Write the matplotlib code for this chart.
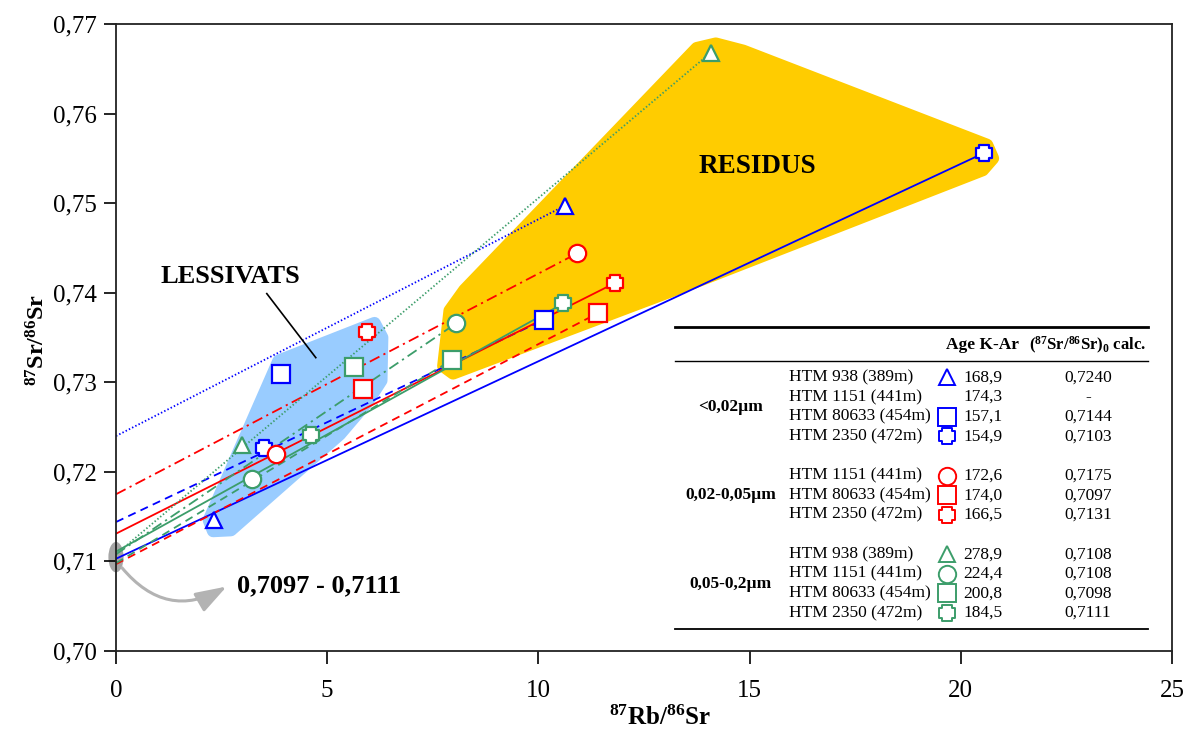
import numpy as np
import matplotlib
matplotlib.use("Agg")
import matplotlib.pyplot as plt
from matplotlib.patches import Polygon, Ellipse, FancyArrowPatch
from matplotlib.path import Path
from matplotlib.ticker import FuncFormatter, MultipleLocator

plt.rcParams['font.family'] = ['Liberation Serif', 'DejaVu Serif']
plt.rcParams['mathtext.fontset'] = 'custom'
plt.rcParams['mathtext.rm'] = 'Liberation Serif'
plt.rcParams['mathtext.bf'] = 'Liberation Serif:bold'
plt.rcParams['mathtext.it'] = 'Liberation Serif:italic'

# --- data -----------------------------------------------------------------
fractions = ['<0,02µm', '0,02-0,05µm', '0,05-0,2µm']
sample_names = ['HTM 938 (389m)', 'HTM 1151 (441m)', 'HTM 80633 (454m)', 'HTM 2350 (472m)',
                'HTM 1151 (441m)', 'HTM 80633 (454m)', 'HTM 2350 (472m)',
                'HTM 938 (389m)', 'HTM 1151 (441m)', 'HTM 80633 (454m)', 'HTM 2350 (472m)']
sample_frac = [0, 0, 0, 0, 1, 1, 1, 2, 2, 2, 2]
sample_shape = ['tri', None, 'sq', 'cross', 'circ', 'sq', 'cross', 'tri', 'circ', 'sq', 'cross']
age_kar = ['168,9', '174,3', '157,1', '154,9', '172,6', '174,0', '166,5',
           '278,9', '224,4', '200,8', '184,5']
sr0_calc = [0.7240, None, 0.7144, 0.7103, 0.7175, 0.7097, 0.7131,
            0.7108, 0.7108, 0.7098, 0.7111]

# lessivats (leachates)
leach_x = [2.33, None, 3.91, 3.51, 3.79, 5.85, 5.95, 2.98, 3.23, 5.64, 4.62]
leach_y = [0.7146, None, 0.7309, 0.7227, 0.7220, 0.7293, 0.7356, 0.7230, 0.7192, 0.7317, 0.7241]
# residus
resid_x = [10.62, None, 10.14, 20.55, 10.92, 11.40, 11.82, 14.08, 8.06, 7.96, 10.59]
resid_y = [0.7497, None, 0.7370, 0.7556, 0.7444, 0.7377, 0.7411, 0.7668, 0.7366, 0.7325, 0.7388]

# outlines of the shaded fields
lessivats_x = [6.12, 6.30, 6.28, 5.95, 5.30, 2.72, 2.30, 2.20, 3.06, 3.85]
lessivats_y = [0.7366, 0.7350, 0.7302, 0.7278, 0.7242, 0.7135, 0.7134, 0.7146, 0.7239, 0.7324]
residus_x = [14.20, 14.85, 20.62, 20.76, 20.52, 13.83, 7.98, 7.75, 7.90, 8.25, 13.75]
residus_y = [0.7678, 0.7670, 0.7565, 0.7550, 0.7537, 0.7414, 0.7310, 0.7318, 0.7380, 0.7403, 0.7673]

frac_colors = ['#0000FF', '#FF0000', '#3C9D6A']
cross = Path([(-0.27, -0.5), (0.27, -0.5), (0.27, -0.27), (0.5, -0.27), (0.5, 0.27),
              (0.27, 0.27), (0.27, 0.5), (-0.27, 0.5), (-0.27, 0.27), (-0.5, 0.27),
              (-0.5, -0.27), (-0.27, -0.27), (-0.27, -0.5)], closed=True)
markers = {'tri': '^', 'sq': 's', 'circ': 'o', 'cross': cross}
msizes = {'tri': 12, 'sq': 12.5, 'circ': 12.5, 'cross': 12}
lstyles = {'tri': (0, (0.8, 1.2)), 'sq': (0, (4.5, 3)), 'cross': '-',
           'circ': (0, (6, 2.5, 1.2, 2.5))}

# --- figure ---------------------------------------------------------------
fig = plt.figure(figsize=(11.88, 7.31), dpi=100)
ax = fig.add_axes([116 / 1188, 1 - 651 / 731, (1172 - 116) / 1188, (651 - 24) / 731])
ax.set_xlim(0, 25)
ax.set_ylim(0.70, 0.77)

ax.add_patch(Polygon(np.column_stack([lessivats_x, lessivats_y]), closed=True,
                     fc='#99CCFF', ec='#99CCFF', lw=9, joinstyle='round', zorder=1))
ax.add_patch(Polygon(np.column_stack([residus_x, residus_y]), closed=True,
                     fc='#FFCC00', ec='#FFCC00', lw=9, joinstyle='round', zorder=1))

ax.add_patch(Ellipse((0, 0.71048), 0.36, 0.0034, fc='#a6a6a6', ec='none',
                     clip_on=False, zorder=1.5))
ax.add_patch(FancyArrowPatch((0.14, 0.7093), (2.62, 0.7072),
                             connectionstyle='arc3,rad=0.42',
                             arrowstyle='-|>,head_length=0.95,head_width=0.32',
                             mutation_scale=20, color='#b3b3b3', lw=2.2,
                             shrinkA=0, shrinkB=0, clip_on=False, zorder=1.5))

for i in range(len(sample_names)):
    shp = sample_shape[i]
    if shp is None:
        continue
    c = frac_colors[sample_frac[i]]
    ax.plot([0, resid_x[i]], [sr0_calc[i], resid_y[i]], color=c, lw=1.3,
            linestyle=lstyles[shp], zorder=2)
    ax.plot([leach_x[i], resid_x[i]], [leach_y[i], resid_y[i]], linestyle='none',
            marker=markers[shp], ms=msizes[shp], mfc='white', mec=c, mew=1.6, zorder=3)

ax.text(15.18, 0.7541, 'RESIDUS', fontsize=19.5, fontweight='bold', ha='center', va='center')
ax.text(2.70, 0.7418, 'LESSIVATS', fontsize=19, fontweight='bold', ha='center', va='center')
ax.plot([3.57, 4.73], [0.7399, 0.73275], color='black', lw=1.2, zorder=2)
ax.text(2.86, 0.70732, '0,7097 - 0,7111', fontsize=19, fontweight='bold', ha='left',
        va='center')

ax.xaxis.set_major_locator(MultipleLocator(5))
ax.yaxis.set_major_locator(MultipleLocator(0.01))
ax.yaxis.set_major_formatter(FuncFormatter(lambda v, p: f'{v:.2f}'.replace('.', ',')))
ax.xaxis.set_major_formatter(FuncFormatter(lambda v, p: f'{v:.0f}'))
ax.tick_params(direction='out', length=9, width=1.2, labelsize=18, pad=5)
ax.tick_params(axis='x', pad=12)
for s in ax.spines.values():
    s.set_linewidth(1.3)
    s.set_color('#222222')

ax.set_xlabel(r'$^{\mathbf{87}}$Rb/$^{\mathbf{86}}$Sr', fontsize=18, fontweight='bold')
ax.set_ylabel(r'$^{\mathbf{87}}$Sr/$^{\mathbf{86}}$Sr', fontsize=17.5, fontweight='bold')
ax.xaxis.set_label_coords(0.515, -0.087)
ax.yaxis.set_label_coords(-0.063, 0.496)

# --- table ------------------------------------------------------------------
tab = fig.add_axes([0, 0, 1, 1])
tab.set_xlim(0, 1188)
tab.set_ylim(731, 0)
tab.axis('off')

tab.plot([675, 1148], [326.5, 326.5], color='black', lw=2)
tab.plot([675, 1148], [360.5, 360.5], color='black', lw=1)
tab.plot([675, 1148], [629.3, 629.3], color='black', lw=1.3)
tab.text(982, 345, 'Age K-Ar', fontsize=12.5, fontweight='bold', ha='center', va='center')
tab.text(1088, 345, r'($^{\mathbf{87}}$Sr/$^{\mathbf{86}}$Sr)$_{\mathbf{0}}$ calc.', fontsize=12,
         fontweight='bold', ha='center', va='center')

fs = 12.5
row_y = [377.3 + 19.65 * (i + sample_frac[i]) for i in range(len(sample_names))]
for i in range(len(sample_names)):
    y = row_y[i]
    tab.text(789, y, sample_names[i], fontsize=fs, ha='left', va='center')
    tab.text(963, y, age_kar[i], fontsize=fs, ha='left', va='center')
    sr = '-' if sr0_calc[i] is None else f'{sr0_calc[i]:.4f}'.replace('.', ',')
    tab.text(1088, y, sr, fontsize=fs, ha='center', va='center')
    shp = sample_shape[i]
    if shp is not None:
        tab.plot([946.5], [y], linestyle='none', marker=markers[shp], ms=msizes[shp],
                 mfc='white', mec=frac_colors[sample_frac[i]], mew=1.4)

for k, name in enumerate(fractions):
    ys = [row_y[i] for i in range(len(sample_names)) if sample_frac[i] == k]
    tab.text(730.5, np.mean(ys), name, fontsize=fs, fontweight='bold', ha='center', va='center')

fig.savefig('out.png', dpi=100)
